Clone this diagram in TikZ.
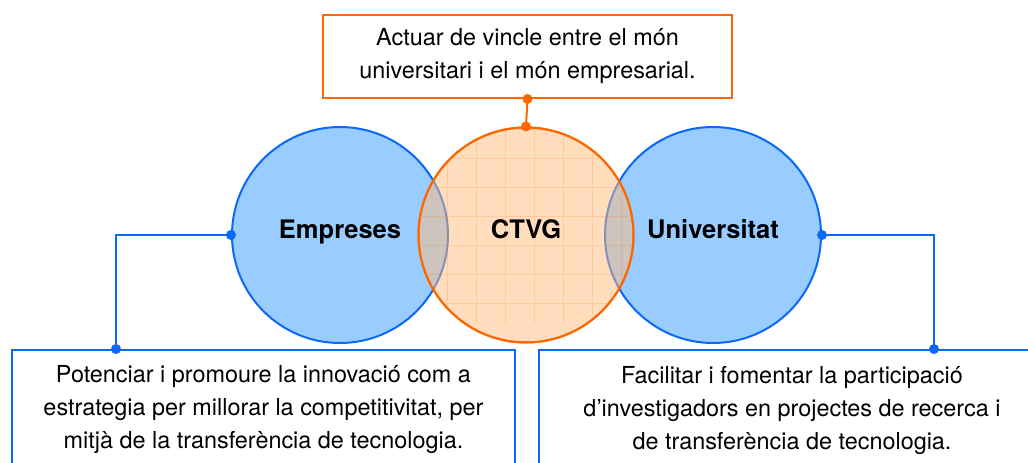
\documentclass[tikz,border=0pt]{standalone}
\usepackage{fontspec}
\setmainfont{TeX Gyre Heros}
\usepackage{tikz}
\usetikzlibrary{positioning}
\definecolor{ctvgorange}{RGB}{255,102,0}
\definecolor{peach}{RGB}{255,189,125}
\definecolor{bluefill}{RGB}{153,204,255}
\definecolor{blueline}{RGB}{10,104,250}

\begin{document}
\begin{tikzpicture}[x=1bp, y=-1bp,
					txt/.style={font=\fontsize{23.4bp}{33bp}\selectfont, align=center},
					orangebox/.style={draw=ctvgorange, line width=2bp, fill=white, txt},
					bluebox/.style={draw=blueline, line width=2bp, fill=white, txt},
					circlabel/.style={font=\fontsize{25.5bp}{30bp}\selectfont\bfseries,
						text height=18.6bp, text depth=12bp},
					bluecircle/.style={circle, draw=blueline, line width=2bp, fill=bluefill,
						minimum size=216bp, inner sep=0pt, circlabel},
					orangecircle/.style={circle, draw=ctvgorange, line width=2bp, fill=peach,
						fill opacity=0.5, text opacity=1, minimum size=215bp, inner sep=0pt, circlabel},
					gridline/.style={ctvgorange, line width=0.8bp, opacity=0.17},
					bline/.style={draw=blueline, line width=2bp},
					oline/.style={draw=ctvgorange, line width=2bp}]
					\useasboundingbox (0,0) rectangle (1028,463);
					\fill[white] (0,0) rectangle (1028,463);
					\clip (0,0) rectangle (1028,463);
					% circles
					\node [bluecircle] (emp) at (340,235) {Empreses};
					\node [bluecircle] (univ) at (713,235) {Universitat};
					\node [orangecircle] (ctvg) at (526,235) {CTVG};
					\begin{scope}
					\clip (ctvg.center) circle[radius=106bp];
					\draw[gridline, xshift=12bp, yshift=16bp] (395,100) grid[step=29bp] (630,340);
					\end{scope}
					\draw[ctvgorange, line width=2bp] (ctvg.center) circle[radius=107.5bp];
					% boxes
					\node [orangebox, minimum width=409bp, minimum height=83bp] (tbox) at (527.5,56.5)
						{Actuar de vincle entre el món\\universitari i el món empresarial.};
					\node [bluebox, minimum width=503bp, minimum height=120bp] (lbox) at (263.5,410)
						{Potenciar i promoure la innovació com a\\estrategia per millorar la competitivitat, per\\mitjà de la transferència de tecnologia.};
					\node [bluebox, minimum width=506bp, minimum height=120bp] (rbox) at (792,410)
						{Facilitar i fomentar la participació\\d’investigadors en projectes de recerca i\\de transferència de tecnologia.};
					% connectors
					\coordinate (ldot) at ([xshift=105bp]lbox.north west);
					\coordinate (rdot) at ([xshift=396bp]rbox.north west);
					\begin{scope}[oline]
					\draw (tbox.south) -- (ctvg.north);
					\fill[ctvgorange] (tbox.south) circle[radius=5bp];
					\fill[ctvgorange] (ctvg.north) circle[radius=5bp];
					\end{scope}
					\begin{scope}[bline]
					\draw (emp.west) -| (ldot);
					\draw (univ.east) -| (rdot);
					\fill[blueline] (emp.west) circle[radius=5bp];
					\fill[blueline] (ldot) circle[radius=5bp];
					\fill[blueline] (univ.east) circle[radius=5bp];
					\fill[blueline] (rdot) circle[radius=5bp];
					\end{scope}
					\end{tikzpicture}
\end{document}
